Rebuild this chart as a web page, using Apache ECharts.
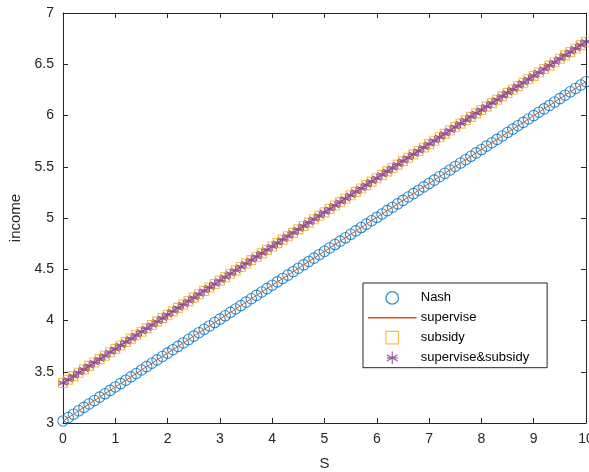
<!DOCTYPE html>
<html>
<head>
<meta charset="utf-8">
<script src="https://cdn.jsdelivr.net/npm/echarts@6/dist/echarts.min.js"></script>
<style>html,body{margin:0;padding:0;background:#fff}#c{width:589px;height:472px}</style>
</head>
<body>
<div id="c"></div>
<script>
const sValues = [0,0.1,0.2,0.3,0.4,0.5,0.6,0.7,0.8,0.9,1,1.1,1.2,1.3,1.4,1.5,1.6,1.7,1.8,1.9,2,2.1,2.2,2.3,2.4,2.5,2.6,2.7,2.8,2.9,3,3.1,3.2,3.3,3.4,3.5,3.6,3.7,3.8,3.9,4,4.1,4.2,4.3,4.4,4.5,4.6,4.7,4.8,4.9,5,5.1,5.2,5.3,5.4,5.5,5.6,5.7,5.8,5.9,6,6.1,6.2,6.3,6.4,6.5,6.6,6.7,6.8,6.9,7,7.1,7.2,7.3,7.4,7.5,7.6,7.7,7.8,7.9,8,8.1,8.2,8.3,8.4,8.5,8.6,8.7,8.8,8.9,9,9.1,9.2,9.3,9.4,9.5,9.6,9.7,9.8,9.9,10];
const nashValues = [3.020,3.053,3.086,3.119,3.152,3.186,3.219,3.252,3.285,3.318,3.351,3.384,3.417,3.450,3.483,3.517,3.550,3.583,3.616,3.649,3.682,3.715,3.748,3.781,3.814,3.848,3.881,3.914,3.947,3.980,4.013,4.046,4.079,4.112,4.145,4.179,4.212,4.245,4.278,4.311,4.344,4.377,4.410,4.443,4.476,4.510,4.543,4.576,4.609,4.642,4.675,4.708,4.741,4.774,4.807,4.841,4.874,4.907,4.940,4.973,5.006,5.039,5.072,5.105,5.138,5.172,5.205,5.238,5.271,5.304,5.337,5.370,5.403,5.436,5.469,5.503,5.536,5.569,5.602,5.635,5.668,5.701,5.734,5.767,5.800,5.834,5.867,5.900,5.933,5.966,5.999,6.032,6.065,6.098,6.131,6.165,6.198,6.231,6.264,6.297,6.330];
const superviseValues = [3.020,3.053,3.086,3.119,3.152,3.186,3.219,3.252,3.285,3.318,3.351,3.384,3.417,3.450,3.483,3.517,3.550,3.583,3.616,3.649,3.682,3.715,3.748,3.781,3.814,3.848,3.881,3.914,3.947,3.980,4.013,4.046,4.079,4.112,4.145,4.179,4.212,4.245,4.278,4.311,4.344,4.377,4.410,4.443,4.476,4.510,4.543,4.576,4.609,4.642,4.675,4.708,4.741,4.774,4.807,4.841,4.874,4.907,4.940,4.973,5.006,5.039,5.072,5.105,5.138,5.172,5.205,5.238,5.271,5.304,5.337,5.370,5.403,5.436,5.469,5.503,5.536,5.569,5.602,5.635,5.668,5.701,5.734,5.767,5.800,5.834,5.867,5.900,5.933,5.966,5.999,6.032,6.065,6.098,6.131,6.165,6.198,6.231,6.264,6.297,6.330];
const subsidyValues = [3.390,3.423,3.457,3.490,3.523,3.557,3.590,3.623,3.656,3.690,3.723,3.756,3.790,3.823,3.856,3.890,3.923,3.956,3.989,4.023,4.056,4.089,4.123,4.156,4.189,4.223,4.256,4.289,4.322,4.356,4.389,4.422,4.456,4.489,4.522,4.556,4.589,4.622,4.655,4.689,4.722,4.755,4.789,4.822,4.855,4.889,4.922,4.955,4.988,5.022,5.055,5.088,5.122,5.155,5.188,5.222,5.255,5.288,5.321,5.355,5.388,5.421,5.455,5.488,5.521,5.555,5.588,5.621,5.654,5.688,5.721,5.754,5.788,5.821,5.854,5.888,5.921,5.954,5.987,6.021,6.054,6.087,6.121,6.154,6.187,6.221,6.254,6.287,6.320,6.354,6.387,6.420,6.454,6.487,6.520,6.554,6.587,6.620,6.653,6.687,6.720];
const bothValues = [3.390,3.423,3.457,3.490,3.523,3.557,3.590,3.623,3.656,3.690,3.723,3.756,3.790,3.823,3.856,3.890,3.923,3.956,3.989,4.023,4.056,4.089,4.123,4.156,4.189,4.223,4.256,4.289,4.322,4.356,4.389,4.422,4.456,4.489,4.522,4.556,4.589,4.622,4.655,4.689,4.722,4.755,4.789,4.822,4.855,4.889,4.922,4.955,4.988,5.022,5.055,5.088,5.122,5.155,5.188,5.222,5.255,5.288,5.321,5.355,5.388,5.421,5.455,5.488,5.521,5.555,5.588,5.621,5.654,5.688,5.721,5.754,5.788,5.821,5.854,5.888,5.921,5.954,5.987,6.021,6.054,6.087,6.121,6.154,6.187,6.221,6.254,6.287,6.320,6.354,6.387,6.420,6.454,6.487,6.520,6.554,6.587,6.620,6.653,6.687,6.720];
const seriesNames = ['Nash','supervise','subsidy','supervise&subsidy'];
const xTicks = {min:0, max:10, interval:1};
const yTicks = {min:3, max:7, interval:0.5};

const pair = (ys) => sValues.map((s, i) => [s, ys[i]]);
const C = {nash:'#0072BD', sup:'#D95319', sub:'#EDB120', both:'#7E2F8E'};
const AX = '#262626';
const FONT = 'Liberation Sans, Arial, sans-serif';
const starPath = 'path://M5,0L5,10M0.7,2.5L9.3,7.5M9.3,2.5L0.7,7.5M0.7,5L9.3,5';
const squarePath = 'path://M0,0L10,0L10,10L0,10Z';

const chart = echarts.init(document.getElementById('c'), null, {renderer:'canvas'});
const axisCommon = {
  axisLine:{show:true, onZero:false, lineStyle:{color:AX, width:1}},
  axisTick:{show:true, inside:true, length:5, lineStyle:{color:AX}},
  splitLine:{show:false}
};
chart.setOption({
  backgroundColor:'#fff',
  animation:false,
  grid:{left:63, right:3, top:13, bottom:49, containLabel:false, outerBoundsMode:'none'},
  xAxis:[
    Object.assign({type:'value', position:'bottom', min:xTicks.min, max:xTicks.max, interval:xTicks.interval,
      name:'S', nameLocation:'middle', nameGap:33,
      nameTextStyle:{color:AX, fontSize:15, fontFamily:FONT},
      axisLabel:{color:AX, fontSize:14, fontFamily:FONT, margin:9}}, axisCommon),
    Object.assign({type:'value', position:'top', min:xTicks.min, max:xTicks.max, interval:xTicks.interval,
      axisLabel:{show:false}}, axisCommon)
  ],
  yAxis:[
    Object.assign({type:'value', position:'left', min:yTicks.min, max:yTicks.max, interval:yTicks.interval,
      name:'income', nameLocation:'middle', nameGap:36,
      nameTextStyle:{color:AX, fontSize:15, fontFamily:FONT},
      axisLabel:{color:AX, fontSize:14, fontFamily:FONT, margin:9}}, axisCommon),
    Object.assign({type:'value', position:'right', min:yTicks.min, max:yTicks.max, interval:yTicks.interval,
      axisLabel:{show:false}}, axisCommon)
  ],
  legend:{
    orient:'vertical', left:363, top:283,
    padding:[8,18,3,5], itemGap:6.5, itemWidth:47, itemHeight:12.5,
    backgroundColor:'#fff', borderColor:AX, borderWidth:1, borderRadius:0,
    textStyle:{color:'#000', fontSize:13, fontFamily:FONT},
    data:[
      {name:'Nash', icon:'circle', itemStyle:{color:'rgba(0,0,0,0)', borderColor:C.nash, borderWidth:1.3}},
      {name:'supervise', icon:'path://M0,5L100,5L100,5.01L0,5.01Z', itemStyle:{color:C.sup, borderColor:C.sup, borderWidth:1.5}},
      {name:'subsidy', icon:squarePath, itemStyle:{color:'rgba(0,0,0,0)', borderColor:C.sub, borderWidth:1.2}},
      {name:'supervise&subsidy', icon:starPath, itemStyle:{color:'rgba(0,0,0,0)', borderColor:C.both, borderWidth:1.2}}
    ]
  },
  series:[
    {name:seriesNames[0], type:'scatter', data:pair(nashValues), symbol:'circle', symbolSize:10.5,
      itemStyle:{color:'rgba(0,0,0,0)', borderColor:C.nash, borderWidth:1.1}, z:2},
    {name:seriesNames[1], type:'line', data:pair(superviseValues), symbol:'none', showSymbol:false,
      lineStyle:{color:C.sup, width:1}, itemStyle:{color:C.sup}, z:3},
    {name:seriesNames[2], type:'scatter', data:pair(subsidyValues), symbol:squarePath, symbolSize:9,
      itemStyle:{color:'rgba(0,0,0,0)', borderColor:C.sub, borderWidth:1.1}, z:4},
    {name:seriesNames[3], type:'scatter', data:pair(bothValues), symbol:starPath, symbolSize:9,
      itemStyle:{color:'rgba(0,0,0,0)', borderColor:C.both, borderWidth:1.1}, z:5}
  ]
});
</script>
</body>
</html>
